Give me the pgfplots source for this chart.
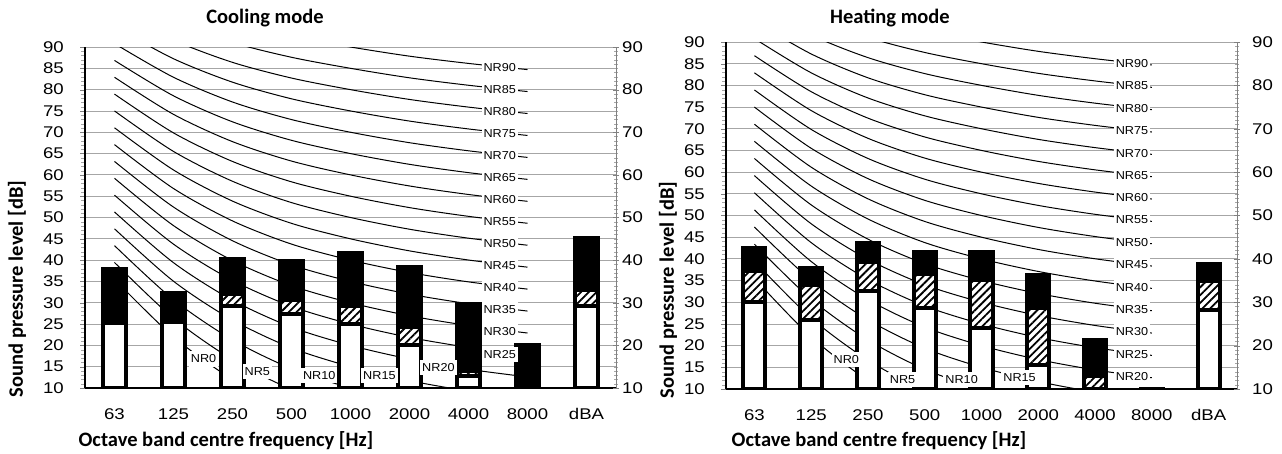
\documentclass[border=0pt]{standalone}
\usepackage{fontspec}
\setmainfont{Carlito}
\newfontfamily\tickf[FakeStretch=1.2]{Liberation Sans}
\newfontfamily\nrf[FakeStretch=1.1]{Liberation Sans}
\usepackage{pgfplots}
\pgfplotsset{compat=1.18}
\usepackage{pgfplotstable}
\usetikzlibrary{patterns.meta}

% NR curves (octave bands 63..8000 at x = 0..7)
\pgfplotstableread{
x nr0 nr5 nr10 nr15 nr20 nr25 nr30 nr35 nr40 nr45 nr50 nr55 nr60 nr65 nr70 nr75 nr80 nr85 nr90
0 35.5 39.45 43.4 47.35 51.3 55.25 59.2 63.15 67.1 71.05 75 78.95 82.9 86.85 90.8 94.75 98.7 102.65 106.6
1 22.0 26.35 30.7 35.05 39.4 43.75 48.1 52.45 56.8 61.15 65.5 69.85 74.2 78.55 82.9 87.25 91.6 95.95 100.3
2 12.0 16.65 21.3 25.95 30.6 35.25 39.9 44.55 49.2 53.85 58.5 63.15 67.8 72.45 77.1 81.75 86.4 91.05 95.7
3 4.8 9.67 14.54 19.41 24.28 29.15 34.02 38.89 43.76 48.63 53.5 58.37 63.24 68.11 72.98 77.85 82.72 87.59 92.46
4 0 5 10 15 20 25 30 35 40 45 50 55 60 65 70 75 80 85 90
5 -3.5 1.575 6.65 11.725 16.8 21.875 26.95 32.025 37.1 42.175 47.25 52.325 57.4 62.475 67.55 72.625 77.7 82.775 87.85
6 -6.1 -0.975 4.15 9.275 14.4 19.525 24.65 29.775 34.9 40.025 45.15 50.275 55.4 60.525 65.65 70.775 75.9 81.025 86.15
7 -8.0 -2.85 2.3 7.45 12.6 17.75 22.9 28.05 33.2 38.35 43.5 48.65 53.8 58.95 64.1 69.25 74.4 79.55 84.7
}\nrcurves

% bars: white part, hatched part, black top
\pgfplotstableread{
x white hatch top
0 25.3 26.1 38.0
1 25.5 25.5 32.3
2 29.2 32.1 40.3
3 27.4 30.7 39.9
4 24.9 29.3 41.7
5 20.2 24.3 38.4
6 12.9 13.9 29.7
7 0 0 20.0
8 29.3 33.1 45.2
}\cooling

\pgfplotstableread{
x white hatch top
0 30.1 37.2 42.5
1 26.0 33.9 37.9
2 32.7 39.3 43.6
3 28.7 36.6 41.7
4 24.1 35.2 41.5
5 15.6 28.7 36.2
6 0 13.1 21.3
7 0 0 10.0
8 28.3 35.0 38.9
}\heating

\pgfplotsset{
  nrchart/.style={
    scale only axis, anchor=south west,
    xmin=-0.5, xmax=8.5, ymin=10, ymax=90,
    axis x line*=bottom, axis y line*=left,
    axis line style={-, line width=1.2pt},
    xtick={0,...,8},
    xticklabels={63,125,250,500,1000,2000,4000,8000,dBA},
    xtick style={draw=none},
    ytick={10,15,...,90}, minor y tick num=4,
    tick align=outside, major tick length=5pt, minor tick length=4pt,
    minor y tick style={gray!70},
    ymajorgrids, major grid style={gray!70, line width=0.8pt},
    /pgf/number format/assume math mode=true,
    ticklabel style={font=\tickf\fontsize{15.5}{18}\selectfont},
    xticklabel style={anchor=base, yshift=-26pt},
    yticklabel style={anchor=east, inner sep=0pt, xshift=-16pt},
  },
  rightaxis/.style={
    scale only axis, anchor=south west,
    xmin=-0.5, xmax=8.5, ymin=10, ymax=90,
    axis x line=none, axis y line*=right,
    y axis line style={-, gray, line width=1pt},
    ytick={10,20,...,90}, minor y tick num=9,
    tick align=center, major tick length=6pt, minor tick length=4pt,
    ytick style={gray}, minor y tick style={gray!70},
    /pgf/number format/assume math mode=true,
    ticklabel style={font=\tickf\fontsize{15.5}{18}\selectfont},
    yticklabel style={anchor=west, inner sep=0pt},
  },
  nrcurve/.style={black, line width=1pt, smooth, no marks},
  barbox/.style={ybar, bar shift=0pt, draw=black, line width=4pt},
  hatched/.style={fill=white, postaction={pattern={Lines[angle=45, distance=5.5pt, line width=1.8pt]}}},
}
\tikzset{nrlab/.style={fill=white, inner xsep=2pt, inner ysep=3.5pt, font=\nrf\fontsize{11.5}{13}\selectfont}}

\begin{document}
\begin{tikzpicture}
\useasboundingbox (0,0) rectangle (1282pt,-453pt);

% ---------- Cooling mode ----------
\begin{axis}[nrchart, width=531pt, height=341pt, at={(85pt,-388pt)}]
  \pgfplotsinvokeforeach{0,5,...,90}{
    \addplot[nrcurve] table[x=x, y=nr#1] {\nrcurves};
  }
  \addplot[barbox, bar width=0.4, fill=black] table[x=x, y=top] {\cooling};
  \addplot[barbox, bar width=0.4, hatched] table[x=x, y=hatch] {\cooling};
  \addplot[barbox, bar width=0.4, fill=white] table[x=x, y=white] {\cooling};
  \node[nrlab] at (axis cs:1.51,16.8) {NR0};
  \node[nrlab] at (axis cs:2.42,13.8) {NR5};
  \node[nrlab] at (axis cs:3.47,13.0) {NR10};
  \node[nrlab] at (axis cs:4.49,12.9) {NR15};
  \node[nrlab] at (axis cs:5.49,14.8) {NR20};
  \node[nrlab] at (axis cs:6.53,17.9) {NR25};
  \node[nrlab] at (axis cs:6.53,23.3) {NR30};
  \node[nrlab] at (axis cs:6.53,28.4) {NR35};
  \node[nrlab] at (axis cs:6.53,33.6) {NR40};
  \node[nrlab] at (axis cs:6.53,38.7) {NR45};
  \node[nrlab] at (axis cs:6.53,43.9) {NR50};
  \node[nrlab] at (axis cs:6.53,49.0) {NR55};
  \node[nrlab] at (axis cs:6.53,54.2) {NR60};
  \node[nrlab] at (axis cs:6.53,59.3) {NR65};
  \node[nrlab] at (axis cs:6.53,64.5) {NR70};
  \node[nrlab] at (axis cs:6.53,69.6) {NR75};
  \node[nrlab] at (axis cs:6.53,74.8) {NR80};
  \node[nrlab] at (axis cs:6.53,80.0) {NR85};
  \node[nrlab] at (axis cs:6.53,85.1) {NR90};
\end{axis}
\begin{axis}[rightaxis, width=531pt, height=341pt, at={(85pt,-388pt)},
  yticklabel style={xshift=3pt}]
\end{axis}

% ---------- Heating mode ----------
\begin{axis}[nrchart, width=511pt, height=347pt, at={(726pt,-389pt)}]
  \pgfplotsinvokeforeach{0,5,...,90}{
    \addplot[nrcurve] table[x=x, y=nr#1] {\nrcurves};
  }
  \addplot[barbox, bar width=0.39, fill=black] table[x=x, y=top] {\heating};
  \addplot[barbox, bar width=0.39, hatched] table[x=x, y=hatch] {\heating};
  \addplot[barbox, bar width=0.39, fill=white] table[x=x, y=white] {\heating};
  \node[nrlab] at (axis cs:1.62,16.9) {NR0};
  \node[nrlab] at (axis cs:2.61,12.1) {NR5};
  \node[nrlab] at (axis cs:3.65,12.1) {NR10};
  \node[nrlab] at (axis cs:4.67,12.6) {NR15};
  \node[nrlab] at (axis cs:6.65,12.9) {NR20};
  \node[nrlab] at (axis cs:6.65,17.9) {NR25};
  \node[nrlab] at (axis cs:6.65,23.2) {NR30};
  \node[nrlab] at (axis cs:6.65,28.3) {NR35};
  \node[nrlab] at (axis cs:6.65,33.5) {NR40};
  \node[nrlab] at (axis cs:6.65,38.7) {NR45};
  \node[nrlab] at (axis cs:6.65,43.8) {NR50};
  \node[nrlab] at (axis cs:6.65,49.0) {NR55};
  \node[nrlab] at (axis cs:6.65,54.1) {NR60};
  \node[nrlab] at (axis cs:6.65,59.3) {NR65};
  \node[nrlab] at (axis cs:6.65,64.4) {NR70};
  \node[nrlab] at (axis cs:6.65,69.6) {NR75};
  \node[nrlab] at (axis cs:6.65,74.7) {NR80};
  \node[nrlab] at (axis cs:6.65,79.9) {NR85};
  \node[nrlab] at (axis cs:6.65,85.1) {NR90};
\end{axis}
\begin{axis}[rightaxis, width=511pt, height=347pt, at={(726pt,-389pt)},
  yticklabel style={xshift=12pt}]
\end{axis}

% titles and axis labels
\begin{scope}[every node/.style={font=\bfseries\fontsize{20.5}{24}\selectfont}]
  \node[anchor=base] at (265pt,-23pt) {Cooling mode};
  \node[anchor=base] at (890pt,-23pt) {Heating mode};
  \node[anchor=base] at (226pt,-446.5pt) {Octave band centre frequency [Hz]};
  \node[anchor=base] at (879pt,-446pt) {Octave band centre frequency [Hz]};
  \node[rotate=90] at (17pt,-289pt) {Sound pressure level [dB]};
  \node[rotate=90] at (668pt,-290pt) {Sound pressure level [dB]};
\end{scope}
\end{tikzpicture}
\end{document}
